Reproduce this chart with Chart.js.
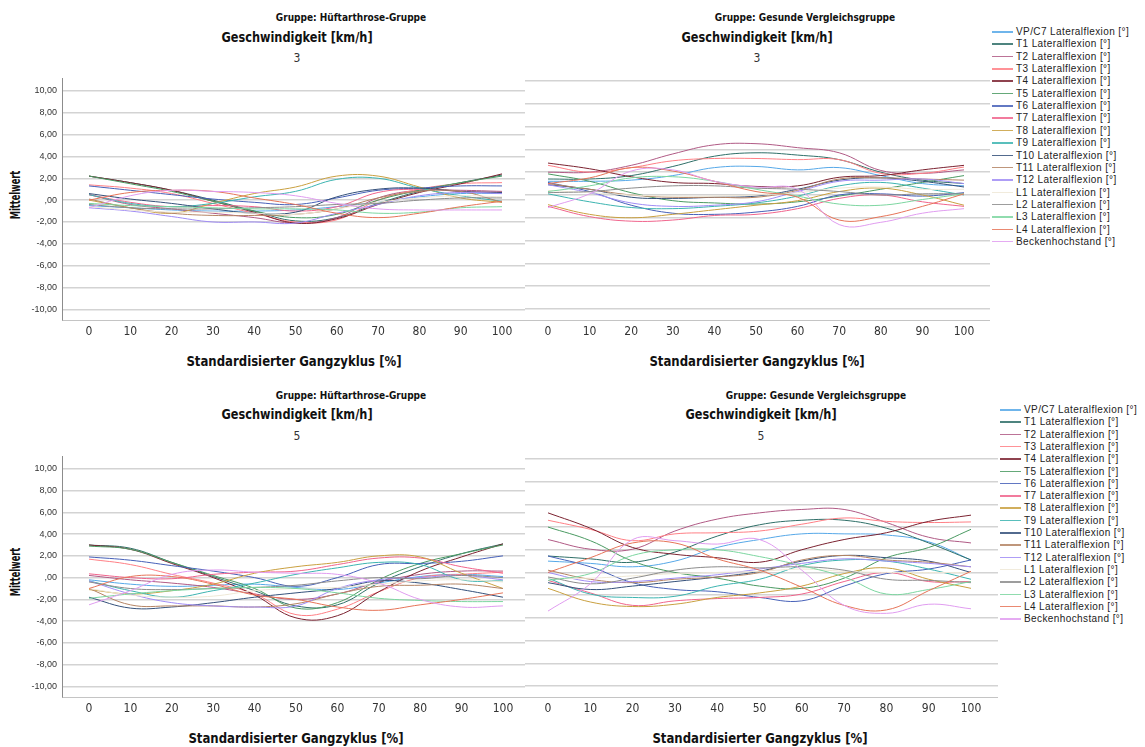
<!DOCTYPE html>
<html lang="de">
<head>
<meta charset="utf-8">
<title>Lateralflexion im Gangzyklus</title>
<script src="https://cdn.jsdelivr.net/npm/chart.js@4.4.1/dist/chart.umd.min.js"></script>
<style>
  html, body { margin: 0; padding: 0; background: #fff; }
  body { width: 1145px; height: 747px; position: relative; overflow: hidden;
         font-family: "Liberation Sans", Arial, sans-serif; color: #111; }
  .abs { position: absolute; white-space: nowrap; }
  .narrow { font-family: "Liberation Sans Narrow", "Arial Narrow", "DejaVu Sans Condensed", sans-serif; }
  .t-group { font-weight: bold; font-size: 10px; transform: translate(-50%, -50%); }
  .t-speed { font-weight: bold; font-size: 14px; transform: translate(-50%, -50%) scaleX(0.9); }
  .t-val { font-size: 12px; color: #333; transform: translate(-50%, -50%); }
  .t-xtitle { font-weight: bold; font-size: 14px; transform: translate(-50%, -50%) scaleX(0.93); }
  .t-ytitle { font-weight: bold; font-size: 13.5px; transform: translate(-50%, -50%) rotate(-90deg) scaleX(0.68); }
  canvas.panel { position: absolute; }
  .legend { position: absolute; font-size: 10px; letter-spacing: 0.4px; color: #222; }
  .legend .row { position: absolute; left: 0; height: 12px; line-height: 12px; white-space: nowrap; }
  .legend .sw { position: absolute; left: 0; top: 5px; width: 21px; height: 1.5px; opacity: 0.85; }
  .legend .tx { position: absolute; left: 24px; top: 0; }
</style>
</head>
<body>

<!-- titles, top row (3 km/h) -->
<div class="abs narrow t-group" style="left:351px;top:17px">Gruppe: Hüftarthrose-Gruppe</div>
<div class="abs narrow t-group" style="left:805px;top:17px">Gruppe: Gesunde Vergleichsgruppe</div>
<div class="abs narrow t-speed" style="left:297px;top:37px">Geschwindigkeit [km/h]</div>
<div class="abs narrow t-speed" style="left:757px;top:37px">Geschwindigkeit [km/h]</div>
<div class="abs narrow t-val" style="left:297px;top:58px">3</div>
<div class="abs narrow t-val" style="left:757px;top:58px">3</div>
<div class="abs narrow t-ytitle" style="left:15px;top:195px">Mittelwert</div>
<div class="abs narrow t-xtitle" style="left:294px;top:361px">Standardisierter Gangzyklus [%]</div>
<div class="abs narrow t-xtitle" style="left:757px;top:361px">Standardisierter Gangzyklus [%]</div>

<!-- titles, bottom row (5 km/h) -->
<div class="abs narrow t-group" style="left:351px;top:395px">Gruppe: Hüftarthrose-Gruppe</div>
<div class="abs narrow t-group" style="left:816px;top:395px">Gruppe: Gesunde Vergleichsgruppe</div>
<div class="abs narrow t-speed" style="left:297px;top:414px">Geschwindigkeit [km/h]</div>
<div class="abs narrow t-speed" style="left:761px;top:414px">Geschwindigkeit [km/h]</div>
<div class="abs narrow t-val" style="left:297px;top:436px">5</div>
<div class="abs narrow t-val" style="left:761px;top:436px">5</div>
<div class="abs narrow t-ytitle" style="left:15px;top:572px">Mittelwert</div>
<div class="abs narrow t-xtitle" style="left:296px;top:738px">Standardisierter Gangzyklus [%]</div>
<div class="abs narrow t-xtitle" style="left:760px;top:738px">Standardisierter Gangzyklus [%]</div>

<canvas id="p_hueft3" class="panel" width="525" height="282" style="left:0;top:68px"></canvas>
<canvas id="p_gesund3" class="panel" width="465" height="282" style="left:525px;top:68px"></canvas>
<canvas id="p_hueft5" class="panel" width="525" height="281" style="left:0;top:446px"></canvas>
<canvas id="p_gesund5" class="panel" width="473" height="281" style="left:525px;top:446px"></canvas>

<div id="legend3" class="legend" style="left:992px;top:26px"></div>
<div id="legend5" class="legend" style="left:1000px;top:404px"></div>

<script>
// Gait cycle sample positions (% of stride)
const GAIT_PCT = [0, 10, 20, 30, 40, 50, 60, 70, 80, 90, 100];
const X_TICKS = [0, 10, 20, 30, 40, 50, 60, 70, 80, 90, 100];
const Y_TICKS = [-10, -8, -6, -4, -2, 0, 2, 4, 6, 8, 10];

const SERIES = [
  "VP/C7 Lateralflexion [°]", "T1 Lateralflexion [°]", "T2 Lateralflexion [°]",
  "T3 Lateralflexion [°]", "T4 Lateralflexion [°]", "T5 Lateralflexion [°]",
  "T6 Lateralflexion [°]", "T7 Lateralflexion [°]", "T8 Lateralflexion [°]",
  "T9 Lateralflexion [°]", "T10 Lateralflexion [°]", "T11 Lateralflexion [°]",
  "T12 Lateralflexion [°]", "L1 Lateralflexion [°]", "L2 Lateralflexion [°]",
  "L3 Lateralflexion [°]", "L4 Lateralflexion [°]", "Beckenhochstand [°]"
];

const COLORS = [
  "#56a8e8", "#2f6f68", "#b05a85", "#ff7f85", "#7b2230", "#4a9a62",
  "#4660b8", "#f0648c", "#c9a040", "#3cb4b0", "#34507a", "#b48464",
  "#a08cf5", "#efe8d6", "#8c8c8c", "#7cd6a0", "#e67458", "#e09cf0"
];

// Mean lateral flexion [°], one row per segment (order of SERIES)
// Hip osteoarthritis group, 3 km/h
const HUEFT_3KMH = [
  [-0.5, -0.7, -0.9, -1.0, -1.0, -0.9, -0.6, -0.2, 0.3, 0.6, 0.6],
  [2.2, 1.6, 0.9, 0.0, -1.0, -1.9, -1.6, -0.3, 0.8, 1.6, 2.3],
  [0.5, -0.4, -0.8, -1.2, -1.6, -2.1, -1.6, 0.2, 0.9, 0.9, 0.8],
  [1.4, 1.1, 0.6, -0.3, -1.2, -2.0, -1.8, 0.0, 1.0, 1.5, 1.6],
  [2.2, 1.6, 0.9, -0.1, -1.1, -2.1, -1.7, -0.4, 0.7, 1.5, 2.4],
  [2.2, 1.5, 0.8, -0.1, -1.0, -1.6, -1.3, 0.0, 0.9, 1.6, 2.2],
  [1.3, 0.9, 0.5, 0.1, -0.2, -0.4, 0.2, 0.9, 1.1, 1.3, 1.3],
  [0.5, -0.2, -0.6, -0.5, -0.6, -1.0, -0.6, 0.7, 1.0, 0.8, 0.7],
  [0.0, -0.7, -1.2, -0.3, 0.6, 1.2, 2.2, 2.2, 1.2, 0.2, -0.2],
  [0.5, -0.3, -0.6, -0.3, 0.3, 0.8, 1.9, 2.0, 1.1, 0.4, -0.1],
  [0.6, 0.1, -0.3, -0.8, -1.2, -1.1, 0.3, 1.0, 1.1, 0.8, 0.7],
  [0.1, -0.7, -1.2, -1.4, -1.4, -1.3, -0.8, 0.2, 0.8, 0.8, -0.2],
  [-0.7, -1.0, -1.5, -2.0, -2.0, -2.1, -1.2, -0.4, 0.4, 0.7, 0.6],
  [-0.6, -0.9, -1.1, -1.1, -1.2, -1.3, -0.8, -0.2, 0.2, 0.4, 0.3],
  [-0.4, -0.7, -0.8, -0.8, -0.7, -0.6, -0.4, -0.3, 0.0, 0.2, 0.2],
  [-0.3, -0.5, -0.6, -0.7, -0.8, -0.8, -0.9, -1.2, -1.1, -0.7, -0.6],
  [0.0, 0.7, 0.9, 0.8, 0.2, -0.4, -1.2, -1.6, -1.2, -0.6, -0.1],
  [-0.7, 0.4, 0.9, 0.8, 0.7, 0.4, -0.3, -0.8, -0.9, -0.9, -0.9]
];

// Healthy comparison group, 3 km/h
const GESUND_3KMH = [
  [1.2, 1.2, 1.3, 1.7, 2.4, 2.5, 2.2, 2.4, 1.7, 1.0, 0.8],
  [1.4, 1.4, 1.7, 2.5, 3.4, 3.7, 3.5, 3.1, 2.0, 1.3, 1.0],
  [2.0, 2.0, 2.6, 3.6, 4.4, 4.5, 4.15, 3.7, 2.15, 1.9, 2.2],
  [2.6, 2.0, 2.4, 3.0, 3.2, 3.2, 3.1, 3.1, 1.9, 1.9, 2.45],
  [2.8, 2.3, 1.6, 1.1, 1.0, 0.75, 0.8, 1.55, 1.7, 2.2, 2.6],
  [1.85, 1.2, 0.2, -0.5, -0.7, -0.8, -0.6, -0.1, 0.5, 1.1, 1.7],
  [1.1, 0.3, -0.9, -1.6, -1.7, -1.5, -1.0, 0.0, 0.1, -0.1, 0.2],
  [-1.0, -1.9, -2.3, -2.2, -1.8, -1.7, -1.2, -0.3, 0.0, -0.6, -1.0],
  [-0.85, -1.7, -2.0, -1.7, -1.3, -0.9, -0.5, 0.3, 0.6, 0.0, -0.9],
  [0.1, -0.6, -1.1, -1.2, -1.0, -0.7, -0.1, 0.8, 1.1, 0.6, 0.0],
  [0.9, 0.5, -0.2, -0.3, -0.2, -0.1, 0.5, 1.3, 1.5, 1.2, 0.7],
  [1.0, 0.5, 0.0, -0.2, -0.2, -0.2, 0.4, 1.4, 1.5, 1.4, 1.3],
  [0.9, 0.2, -0.7, -1.0, -0.9, -0.6, 0.3, 1.2, 1.3, 1.4, 1.0],
  [0.4, 0.2, 0.0, -0.1, -0.1, 0.0, 0.2, 0.6, 0.7, 0.5, 0.5],
  [0.2, 0.3, 0.6, 0.8, 0.8, 0.6, 0.5, 0.3, 0.0, 0.1, 0.1],
  [0.3, 0.8, 1.5, 1.6, 1.2, 0.5, -0.1, -0.8, -0.9, -0.4, 0.1],
  [1.0, 1.5, 2.4, 2.1, 1.2, 0.3, -0.2, -2.2, -1.9, -1.0, 0.1],
  [-1.1, 0.1, 2.1, 2.2, 1.2, 0.7, 0.5, -2.6, -2.4, -1.6, -1.2]
];

// Hip osteoarthritis group, 5 km/h
const HUEFT_5KMH = [
  [-0.2, -0.6, -0.8, -0.7, -0.6, -0.9, -1.1, -0.5, 0.1, 0.3, 0.1],
  [3.0, 2.7, 1.4, 0.1, -1.2, -2.6, -2.5, -0.5, 1.0, 2.2, 3.1],
  [0.2, -0.2, -0.5, -0.9, -1.5, -2.0, -1.5, -0.4, 0.3, 0.6, 0.6],
  [1.7, 1.2, 0.3, -0.5, -1.5, -3.4, -2.9, -1.3, 0.0, 0.3, 0.5],
  [3.0, 2.6, 1.3, 0.0, -1.6, -3.7, -3.5, -1.3, 0.6, 1.9, 3.1],
  [2.9, 2.6, 1.4, 0.2, -1.0, -2.8, -2.3, -0.2, 1.3, 2.2, 3.0],
  [1.9, 1.6, 1.1, 0.6, 0.0, -0.8, 0.0, 1.2, 1.3, 1.5, 2.0],
  [0.35, 0.0, -0.1, 0.3, 0.5, 0.6, 1.2, 1.8, 1.8, 1.0, 0.4],
  [-1.1, -1.5, -1.2, -0.6, 0.4, 1.0, 1.4, 2.0, 1.9, 0.4, -1.0],
  [-0.3, -1.2, -1.8, -1.2, -0.5, 0.3, 0.9, 1.4, 1.2, -0.2, -0.3],
  [-1.8, -2.8, -2.7, -2.3, -1.8, -1.4, -1.0, -0.3, -0.5, -1.1, -1.8],
  [-1.0, -2.5, -2.6, -2.6, -2.7, -2.4, -1.5, -0.8, -0.7, -0.6, -1.0],
  [-0.3, -1.5, -2.3, -2.6, -2.7, -2.6, -1.0, -0.2, 0.0, 0.2, -0.2],
  [-1.0, -1.6, -1.8, -1.7, -1.2, -1.0, -0.9, -0.6, -0.3, -0.2, -0.4],
  [-0.4, -1.0, -1.1, -1.0, -0.9, -0.7, -0.3, 0.0, -0.1, 0.2, 0.0],
  [-1.9, -1.5, -1.2, -1.0, -0.9, -1.0, -1.4, -1.9, -2.1, -2.2, -2.2],
  [-1.0, 0.1, 0.1, -0.6, -1.6, -2.0, -2.7, -3.0, -2.5, -2.0, -1.4],
  [-2.5, -1.2, 0.3, 0.7, 0.5, 0.4, 0.3, -0.5, -2.0, -2.7, -2.6]
];

// Healthy comparison group, 5 km/h
const GESUND_5KMH = [
  [1.0, 0.8, 0.5, 1.0, 2.2, 2.9, 3.4, 3.4, 3.3, 2.7, 1.1],
  [1.45, 1.2, 0.9, 1.8, 3.2, 4.2, 4.6, 4.6, 3.9, 2.6, 1.1],
  [2.9, 2.05, 2.05, 3.65, 4.7, 5.25, 5.55, 5.55, 4.4, 3.1, 2.6],
  [4.6, 3.8, 2.8, 3.4, 3.5, 3.65, 4.25, 4.8, 4.5, 4.4, 4.45],
  [5.25, 3.9, 2.2, 1.6, 1.3, 0.9, 2.0, 2.9, 3.5, 4.5, 5.05],
  [4.0, 2.8, 1.0, 0.0, -0.5, -1.2, -1.4, -0.5, 1.3, 2.2, 3.8],
  [1.45, 0.5, -0.9, -1.5, -1.7, -2.2, -2.5, -1.2, -0.1, 0.3, 1.1],
  [-0.7, -1.8, -2.9, -2.5, -2.3, -2.2, -1.9, -0.8, 0.0, -0.8, -0.8],
  [-1.4, -2.6, -3.0, -2.8, -2.2, -1.8, -1.2, -0.1, 0.4, -0.6, -1.4],
  [-0.5, -1.9, -2.2, -2.1, -1.2, -0.6, 0.6, 1.1, 1.0, 0.3, -0.6],
  [-0.9, -1.5, -1.2, -0.8, -0.4, 0.1, 1.0, 1.5, 1.3, 1.0, 0.0],
  [0.2, -0.6, -0.9, -0.6, -0.4, 0.0, 1.1, 1.5, 1.1, 0.9, 0.5],
  [0.0, -0.8, -0.8, -0.5, -0.2, 0.3, 0.8, 1.2, 1.0, 0.8, 0.5],
  [-0.5, -0.5, -0.3, -0.1, 0.0, 0.1, 0.3, 0.1, 0.0, 0.0, 0.0],
  [-0.4, -1.0, -0.5, 0.2, 0.5, 0.4, 0.5, 0.2, -0.6, -0.7, -0.9],
  [-0.7, -0.1, 1.5, 2.0, 2.0, 1.4, 0.6, -0.4, -1.9, -1.5, -0.8],
  [0.0, 1.3, 2.6, 2.6, 1.2, 0.2, -1.3, -2.9, -3.3, -1.6, 0.1],
  [-3.4, -1.0, 2.9, 2.8, 2.5, 2.9, 0.2, -2.9, -3.6, -2.8, -3.2]
];

const NARROW = '"Liberation Sans Narrow", "Arial Narrow", "DejaVu Sans Condensed", sans-serif';

// SPSS-style number format: 2 decimals, comma, zero shown as ",00"
function fmtValue(v) {
  if (v === 0) return ',00';
  return v.toFixed(2).replace('.', ',');
}

function drawPanel(id, rows, xMin, xMax, showY) {
  new Chart(document.getElementById(id), {
    type: 'line',
    data: {
      datasets: rows.map((vals, i) => ({
        label: SERIES[i],
        data: GAIT_PCT.map((x, j) => ({ x: x, y: vals[j] })),
        borderColor: COLORS[i],
        borderWidth: 1,
        pointRadius: 0,
        fill: false,
        tension: 0.4,
        order: rows.length - i   // later segments drawn on top
      }))
    },
    options: {
      responsive: false,
      animation: false,
      events: [],
      layout: { padding: 0 },
      plugins: { legend: { display: false }, tooltip: { enabled: false } },
      scales: {
        x: {
          type: 'linear', min: xMin, max: xMax,
          afterBuildTicks: s => { s.ticks = X_TICKS.map(v => ({ value: v })); },
          afterFit: s => { s.height = 30; },
          grid: { display: false, drawTicks: false },
          border: { display: true, color: '#c4c4c4', width: 1 },
          ticks: { padding: 5, autoSkip: false, maxRotation: 0, color: '#333',
                   font: { family: NARROW, size: 12 }, callback: v => String(v) }
        },
        y: {
          min: -10.97, max: 11.14,
          afterBuildTicks: s => { s.ticks = Y_TICKS.map(v => ({ value: v })); },
          afterFit: s => { s.width = showY ? 62 : 0; },
          grid: { color: '#d3d3d3', lineWidth: 1.5, drawTicks: false },
          border: { display: showY, color: '#8c8c8c', width: 1 },
          ticks: { display: showY, padding: 5, color: '#333',
                   font: { family: '"Liberation Sans", Arial, sans-serif', size: 9 },
                   callback: v => fmtValue(v) }
        }
      }
    }
  });
}

drawPanel('p_hueft3', HUEFT_3KMH, -6.54, 105.57, true);
drawPanel('p_gesund3', GESUND_3KMH, -5.53, 106.25, false);
drawPanel('p_hueft5', HUEFT_5KMH, -6.52, 105.32, true);
drawPanel('p_gesund5', GESUND_5KMH, -5.44, 106.38, false);

function buildLegend(id, step) {
  const box = document.getElementById(id);
  SERIES.forEach((name, i) => {
    const row = document.createElement('div');
    row.className = 'row';
    row.style.top = (i * step) + 'px';
    const sw = document.createElement('div');
    sw.className = 'sw';
    sw.style.background = COLORS[i];
    const tx = document.createElement('span');
    tx.className = 'tx';
    tx.textContent = name;
    row.appendChild(sw);
    row.appendChild(tx);
    box.appendChild(row);
  });
}
buildLegend('legend3', 12.35);
buildLegend('legend5', 12.3);
</script>
</body>
</html>
